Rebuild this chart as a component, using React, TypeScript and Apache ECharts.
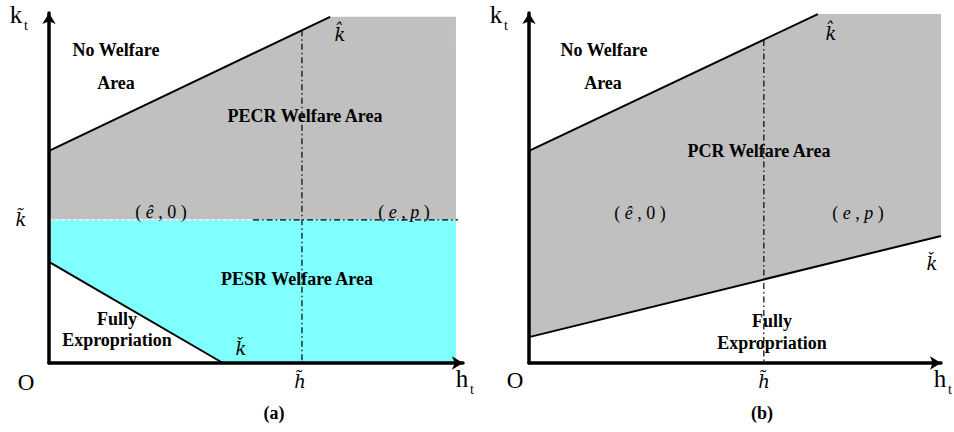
import React, { useEffect, useRef } from "react";
import * as echarts from "echarts";

// ---- Panel (a): axis units (h_t horizontal, k_t vertical), both 0..100 ----
const A_kHatLine = [[0, 60.6], [67.9, 98.9]];
const A_kCheckLine = [[0, 28.9], [42.0, 0]];
const A_kTilde = 40.9;
const A_hRight = 98.3;
const A_kTop = 98.9;
const A_hTilde = 61.1;
const A_hTildeTop = 95.1;
const A_kTildeDarkFrom = 49.3;
const A_kTildeDarkTo = 98.8;

// ---- Panel (b) ----
const B_kHatLine = [[0, 60.6], [70.1, 99.7]];
const B_kCheckLine = [[0, 7.4], [100, 36.3]];
const B_hRight = 100;
const B_kTop = 99.7;
const B_hTilde = 57.0;
const B_hTildeTop = 92.3;

// ---- Texts ----
const areaLabelsA = ["No Welfare", "Area", "PECR Welfare Area", "PESR Welfare Area", "Fully", "Expropriation"];
const areaLabelsB = ["No Welfare", "Area", "PCR Welfare Area", "Fully", "Expropriation"];
const pairLabels = ["{u|( }{i|\u00ea}{u| , 0 )}", "{u|( }{i|e}{u| , }{i|p}{u| )}"];
const symbolLabels = { kHat: "k\u0302", kTilde: "k\u0303", kCheck: "k\u030c", hTilde: "h\u0303" };
const panelLabels = ["(a)", "(b)"];

const SERIF = "'Liberation Serif', 'Times New Roman', serif";
const MATH = "'DejaVu Serif', 'Liberation Serif', serif";

export default function App() {
  const ref = useRef<HTMLDivElement>(null);
  useEffect(() => {
    const chart = echarts.init(ref.current!, null, { renderer: "svg" });

    const axisCommon = (gridIndex: number) => ({
      type: "value",
      gridIndex,
      min: 0,
      max: 100,
      z: 10,
      axisLine: {
        show: true,
        onZero: false,
        symbol: ["none", "arrow"],
        symbolSize: [10, 11],
        lineStyle: { color: "#000", width: 3.5 },
      },
      axisTick: { show: false },
      axisLabel: { show: false },
      splitLine: { show: false },
    });

    const polygon = (pts: number[][], fill: string, idx: number) => ({
      type: "custom",
      coordinateSystem: "cartesian2d",
      xAxisIndex: idx,
      yAxisIndex: idx,
      z: 1,
      silent: true,
      data: [[0, 0]],
      renderItem: (_p: any, api: any) => ({
        type: "polygon",
        shape: { points: pts.map((p) => api.coord(p)) },
        style: { fill },
      }),
    });

    const line = (pts: number[][], idx: number, style: any, z = 3) => ({
      type: "line",
      xAxisIndex: idx,
      yAxisIndex: idx,
      data: pts,
      symbol: "none",
      silent: true,
      z,
      lineStyle: style,
    });

    const solid = { color: "#000", width: 2 };
    const dashDot = { color: "#000", width: 1.2, type: [6, 3, 1.5, 3] };

    const gray = "#c0c0c0";
    const cyan = "#80ffff";

    const grayA = [A_kHatLine[0], A_kHatLine[1], [A_hRight, A_kTop], [A_hRight, A_kTilde], [0, A_kTilde]];
    const cyanA = [[0, A_kTilde], [A_hRight, A_kTilde], [A_hRight, 0], A_kCheckLine[1], A_kCheckLine[0]];
    const grayB = [B_kHatLine[0], B_kHatLine[1], [B_hRight, B_kTop], B_kCheckLine[1], B_kCheckLine[0]];

    const t = (text: string, x: number, y: number, o: any = {}) => ({
      type: "text",
      x,
      y,
      z: 100,
      style: {
        text,
        fontFamily: o.family ?? SERIF,
        fontSize: o.size ?? 18,
        fontWeight: o.weight ?? "normal",
        fontStyle: o.style ?? "normal",
        fill: "#000",
        textAlign: "center",
        textVerticalAlign: "middle",
        rich: o.rich,
      },
    });
    const bold = { weight: "bold" };
    const pair = {
      size: 18,
      rich: {
        u: { fontFamily: SERIF, fontSize: 18, fill: "#000" },
        i: { fontFamily: SERIF, fontSize: 18, fontStyle: "italic", fill: "#000" },
      },
    };
    const sym = { style: "italic", size: 18, family: MATH };

    const graphic = [
      // panel (a)
      t("k", 16, 14, { size: 25 }),
      t("t", 26, 25, { size: 14 }),
      t(areaLabelsA[0], 116, 50, bold),
      t(areaLabelsA[1], 116, 83, bold),
      t(areaLabelsA[2], 305, 116, bold),
      t(areaLabelsA[3], 297, 279, bold),
      t(areaLabelsA[4], 117, 319, bold),
      t(areaLabelsA[5], 117, 340, bold),
      t(pairLabels[0], 161, 212, pair),
      t(pairLabels[1], 404, 212, pair),
      t(symbolLabels.kHat, 340, 34, sym),
      t(symbolLabels.kTilde, 21, 219, sym),
      t(symbolLabels.kCheck, 241, 348, sym),
      t("O", 26, 382, { size: 23 }),
      t(symbolLabels.hTilde, 300, 381, sym),
      t("h", 462, 378, { size: 25 }),
      t("t", 472, 389, { size: 14 }),
      t(panelLabels[0], 274, 413, bold),
      // panel (b)
      t("k", 496, 14, { size: 25 }),
      t("t", 506, 25, { size: 14 }),
      t(areaLabelsB[0], 604, 50, bold),
      t(areaLabelsB[1], 603, 83, bold),
      t(areaLabelsB[2], 759, 151, bold),
      t(areaLabelsB[3], 772, 321, bold),
      t(areaLabelsB[4], 772, 343, bold),
      t(pairLabels[0], 640, 213, pair),
      t(pairLabels[1], 858, 213, pair),
      t(symbolLabels.kHat, 831, 33, sym),
      t(symbolLabels.kCheck, 932, 263, sym),
      t("O", 515, 380, { size: 23 }),
      t(symbolLabels.hTilde, 764, 381, sym),
      t("h", 940, 378, { size: 25 }),
      t("t", 950, 389, { size: 14 }),
      t(panelLabels[1], 762, 413, bold),
    ];

    chart.setOption({
      animation: false,
      backgroundColor: "#fff",
      grid: [
        { left: 49, top: 13, width: 414, height: 350 },
        { left: 529, top: 13, width: 412, height: 350 },
      ],
      xAxis: [axisCommon(0), axisCommon(1)],
      yAxis: [axisCommon(0), axisCommon(1)],
      series: [
        polygon(grayA, gray, 0),
        polygon(cyanA, cyan, 0),
        polygon(grayB, gray, 1),
        line(A_kHatLine, 0, solid),
        line(A_kCheckLine, 0, solid),
        line([[A_hTilde, A_hTildeTop], [A_hTilde, 0]], 0, dashDot),
        line([[0, A_kTilde], [A_kTildeDarkFrom, A_kTilde]], 0, { color: "#eeeeee", width: 1.5, type: [4, 2] }),
        line([[A_kTildeDarkFrom, A_kTilde], [A_kTildeDarkTo, A_kTilde]], 0, dashDot),
        line(B_kHatLine, 1, solid),
        line(B_kCheckLine, 1, solid),
        line([[B_hTilde, B_hTildeTop], [B_hTilde, 0]], 1, dashDot),
      ],
      graphic,
    });
    return () => chart.dispose();
  }, []);

  return (
    <div
      ref={ref}
      style={{ position: "fixed", left: 0, top: 0, width: 954, height: 432, background: "#fff" }}
    />
  );
}
